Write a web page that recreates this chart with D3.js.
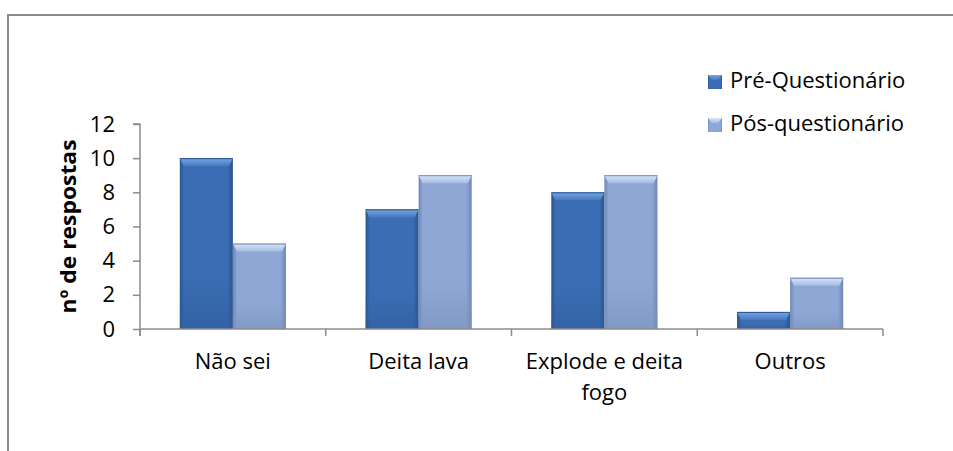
<!DOCTYPE html>
<meta charset="utf-8">
<script src="https://d3js.org/d3.v7.js"></script>
<style>
  body { margin: 0; background: white; }
  text { font-family: "Open Sans", sans-serif; fill: #000; }
</style>
<div id="chart"></div>
<script>
  // data
  var categories = ["Não sei", "Deita lava", "Explode e deita fogo", "Outros"];
  var series = ["Pré-Questionário", "Pós-questionário"];
  var preValues = [10, 7, 8, 1];
  var posValues = [5, 9, 9, 3];
  var yTicks = [0, 2, 4, 6, 8, 10, 12];

  var width = 953, height = 451;
  var svg = d3.select("#chart").append("svg")
    .attr("width", width)
    .attr("height", height);

  var defs = svg.append("defs");

  // palette: main, dark edge, bevel light, bevel low
  var pal = [
    {main: "#3a6db3", edge: "#28528f", light: "#79a5e4", low: "#4479c0", bot: "#2f5c9c"},
    {main: "#8ea7d4", edge: "#6f86b5", light: "#dce7f8", low: "#a3bbe3", bot: "#7b90bb"}
  ];

  pal.forEach(function(p, i) {
    var gh = defs.append("linearGradient").attr("id", "gh" + i)
      .attr("x1", 0).attr("x2", 1).attr("y1", 0).attr("y2", 0);
    gh.append("stop").attr("offset", "0%").attr("stop-color", p.edge);
    gh.append("stop").attr("offset", "8%").attr("stop-color", p.main);
    gh.append("stop").attr("offset", "90%").attr("stop-color", p.main);
    gh.append("stop").attr("offset", "100%").attr("stop-color", p.edge);

    var gv = defs.append("linearGradient").attr("id", "gv" + i)
      .attr("x1", 0).attr("x2", 0).attr("y1", 0).attr("y2", 1);
    gv.append("stop").attr("offset", "0%").attr("stop-color", p.bot).attr("stop-opacity", 0);
    gv.append("stop").attr("offset", "70%").attr("stop-color", p.bot).attr("stop-opacity", 0);
    gv.append("stop").attr("offset", "100%").attr("stop-color", p.bot).attr("stop-opacity", 0.6);

    var gt = defs.append("linearGradient").attr("id", "gt" + i)
      .attr("x1", 0).attr("x2", 0).attr("y1", 0).attr("y2", 1);
    gt.append("stop").attr("offset", "0%").attr("stop-color", p.light);
    gt.append("stop").attr("offset", "100%").attr("stop-color", p.low);
  });

  // outer frame (runs off the right and bottom of the picture)
  svg.append("rect")
    .attr("x", 8).attr("y", 15)
    .attr("width", 960).attr("height", 460)
    .attr("fill", "none")
    .attr("stroke", "#8c8c8c")
    .attr("stroke-width", 2);

  var x0 = d3.scaleBand().domain(categories).range([140, 883]).paddingInner(0);
  var x1 = d3.scaleBand().domain(series).range([0, x0.bandwidth()]).paddingOuter(0.75).paddingInner(0);
  var y = d3.scaleLinear().domain([0, 12]).range([329, 124]);

  // bars
  var rows = [];
  categories.forEach(function(c, i) {
    rows.push({cat: c, s: 0, v: preValues[i]});
    rows.push({cat: c, s: 1, v: posValues[i]});
  });

  var bars = svg.append("g").selectAll("g").data(rows).enter().append("g")
    .attr("transform", function(d) { return "translate(" + (x0(d.cat) + x1(series[d.s])) + "," + y(d.v) + ")"; });

  var bw = x1.bandwidth();
  bars.append("rect")
    .attr("width", bw)
    .attr("height", function(d) { return y(0) - y(d.v); })
    .attr("fill", function(d) { return "url(#gh" + d.s + ")"; });
  bars.append("rect")
    .attr("width", bw)
    .attr("height", function(d) { return y(0) - y(d.v); })
    .attr("fill", function(d) { return "url(#gv" + d.s + ")"; });
  // top bevel
  bars.append("path")
    .attr("d", function(d) {
      var h = Math.min(8, (y(0) - y(d.v)) * 0.5);
      return "M0,0L" + bw + ",0L" + (bw - 4) + "," + h + "L4," + h + "Z";
    })
    .attr("fill", function(d) { return "url(#gt" + d.s + ")"; });
  bars.append("line")
    .attr("x1", 0).attr("x2", bw).attr("y1", 0.5).attr("y2", 0.5)
    .attr("stroke", function(d) { return pal[d.s].edge; })
    .attr("stroke-width", 1);

  // y axis
  var yAxis = svg.append("g").attr("transform", "translate(140,0)")
    .call(d3.axisLeft(y).tickValues(yTicks).tickSize(7).tickPadding(18));
  yAxis.select(".domain").attr("stroke", "#8c8c8c").attr("stroke-width", 1.5)
    .attr("d", "M-7," + y(12) + "H0V" + (y(0) + 7));
  yAxis.selectAll(".tick line").attr("stroke", "#8c8c8c").attr("stroke-width", 1.5);
  yAxis.selectAll(".tick text")
    .attr("font-family", "Open Sans").attr("font-size", 22).attr("fill", "#000");

  // x axis
  var xAxis = svg.append("g").attr("transform", "translate(0," + y(0) + ")");
  xAxis.append("line").attr("x1", 140).attr("x2", 883)
    .attr("stroke", "#8c8c8c").attr("stroke-width", 1.5);
  var bounds = categories.map(function(c) { return x0(c); }).concat([x0.range()[1]]);
  xAxis.selectAll(".xt").data(bounds).enter().append("line")
    .attr("x1", function(d) { return d; }).attr("x2", function(d) { return d; })
    .attr("y1", 0).attr("y2", 7)
    .attr("stroke", "#8c8c8c").attr("stroke-width", 1.5);

  // category labels, wrapped like the original
  var wrapped = {"Explode e deita fogo": ["Explode e deita", "fogo"]};
  categories.forEach(function(c) {
    var lines = wrapped[c] || [c];
    var t = svg.append("text")
      .attr("text-anchor", "middle")
      .attr("font-size", 22);
    lines.forEach(function(l, k) {
      t.append("tspan")
        .attr("x", x0(c) + x0.bandwidth() / 2)
        .attr("y", 369 + k * 31)
        .text(l);
    });
  });

  // y title
  svg.append("text")
    .attr("transform", "translate(76," + ((y(0) + y(12)) / 2) + ") rotate(-90)")
    .attr("text-anchor", "middle")
    .attr("font-family", "DejaVu Sans")
    .attr("font-weight", "bold")
    .attr("font-size", 21)
    .attr("textLength", 174)
    .attr("lengthAdjust", "spacingAndGlyphs")
    .text("nº de respostas");

  // legend
  var legend = svg.append("g").selectAll("g").data(series).enter().append("g")
    .attr("transform", function(d, i) { return "translate(708," + (75 + i * 43) + ")"; });
  legend.append("rect").attr("width", 14).attr("height", 14)
    .attr("fill", function(d, i) { return "url(#gh" + i + ")"; });
  legend.append("path")
    .attr("d", "M0,0L14,0L10,5L4,5Z")
    .attr("fill", function(d, i) { return "url(#gt" + i + ")"; });
  legend.append("text")
    .attr("x", 22).attr("y", 13)
    .attr("font-size", 22)
    .text(function(d) { return d; });
</script>
</html>
